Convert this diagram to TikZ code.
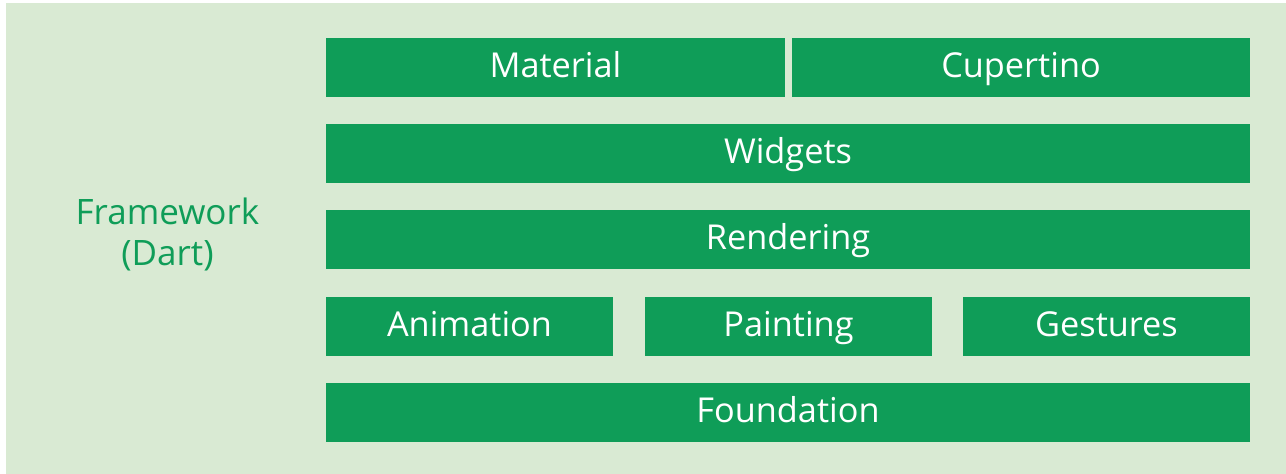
\documentclass[tikz,border=0pt]{standalone}
\usepackage{fontspec}
\setmainfont{Open Sans}
\usetikzlibrary{positioning}

\definecolor{flgreen}{HTML}{0F9D58}
\definecolor{flbg}{HTML}{D9EAD3}

\begin{document}
\begin{tikzpicture}[
    x=1pt, y=-1pt,
    layer/.style={rectangle, fill=flgreen, text=white, inner sep=0pt, minimum height=59pt,
        text height=20.4pt, text depth=0pt, font=\fontsize{34.3}{40}\selectfont},
    side/.style={text=flgreen, inner sep=0pt, text height=20pt, text depth=8pt, font=\fontsize{35}{40}\selectfont}
]
\useasboundingbox (0,0) rectangle (1286,474);

% Background panel
\fill[flbg] (6,3) rectangle (1286,474);

% Top row
\node[layer, minimum width=459pt] (material) at (555.5,67.5) {Material};
\node[layer, minimum width=458pt] (cupertino) at (1021,67.5) {Cupertino};

% Full-width layers
\foreach \name/\txt/\yy in {widgets/Widgets/153.5, rendering/Rendering/239.5, foundation/Foundation/412.5} {
    \node[layer, minimum width=924pt] (\name) at (788,\yy) {\txt};
}

% Middle row
\foreach \name/\txt/\xx in {animation/Animation/469.5, painting/Painting/788.5, gestures/Gestures/1106.5} {
    \node[layer, minimum width=287pt] (\name) at (\xx,326.5) {\txt};
}

% Side label
\node[side] (framework) at (167.5,218.3) {Framework};
\node[side, below=13pt of framework] (dart) {(Dart)};

\end{tikzpicture}
\end{document}
